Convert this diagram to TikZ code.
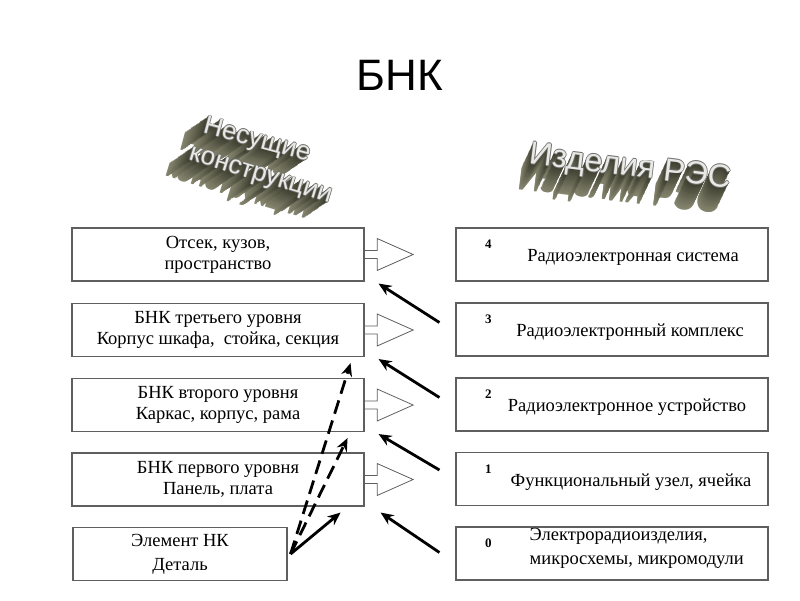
\documentclass[tikz,border=0pt]{standalone}
\usepackage{fontspec}
\setmainfont{Liberation Serif}
\newfontfamily\headfont{Liberation Sans}
\usetikzlibrary{arrows.meta,positioning,calc}
\definecolor{frame}{RGB}{95,95,95}
\definecolor{wadark}{RGB}{62,62,48}
\definecolor{walight}{RGB}{135,135,112}
\definecolor{wafront}{RGB}{232,232,230}
\definecolor{waedge}{RGB}{110,110,106}
\tikzset{
  >={Stealth[length=13pt,width=11pt]},
  box/.style={draw=frame,line width=1.1pt,fill=white,minimum width=#1,minimum height=53pt,
    inner sep=0pt,align=center,font=\fontsize{18.5}{21}\selectfont},
  box/.default=292pt,
  txt/.style={font=\fontsize{18.5}{24}\selectfont,align=left,inner sep=0pt},
  num/.style={font=\fontsize{13}{15}\selectfont\bfseries,inner sep=0pt},
  link/.style={->,line width=2.8pt,draw=black},
  dlink/.style={link,dash pattern=on 14pt off 7pt},
  wa/.style={font=\headfont\fontsize{#1}{#1}\selectfont,inner sep=0pt},
  wa/.default=26,
  % hollow block arrow
  pics/hollow/.style={code={
    \draw[frame,fill=white,line width=0.8pt] (0,-4) -- (12,-4) -- (12,-16) -- (48,0) -- (12,16) -- (12,4) -- (0,4);
  }},
}

\begin{document}
\begin{tikzpicture}[x=1pt,y=-1pt]
  \fill[white] (0,0) rectangle (800,600);
  \useasboundingbox (0,0) rectangle (800,600);

  \node[font=\headfont\fontsize{44}{44}\selectfont] (title) at (400,75) {БНК};

  % 3D headings
  \coordinate (nes) at (257,141);
  \coordinate (kon) at (260,177);
  \coordinate (izd) at (630,168);
  \foreach \k in {30,29,...,1}{
    \pgfmathtruncatemacro\p{100*\k/30}
    \node[wa,rotate=-15,text=walight!\p!wadark] (nes\k) at ($(nes)+(-\k*0.8,\k*0.55)$) {Несущие};
    \node[wa,rotate=-17,text=walight!\p!wadark] (kon\k) at ($(kon)+(-\k*0.8,\k*0.55)$) {конструкции};
    \node[wa=32,rotate=-7,text=walight!\p!wadark] (izd\k) at ($(izd)+(-\k*0.4,\k*0.85)$) {Изделия РЭС};
  }
  \foreach \dx/\dy in {0.8/0,-0.8/0,0/0.8,0/-0.8}{
    \node[wa,rotate=-15,text=waedge] at ($(nes)+(\dx,\dy)$) {Несущие};
    \node[wa,rotate=-17,text=waedge] at ($(kon)+(\dx,\dy)$) {конструкции};
    \node[wa=32,rotate=-7,text=waedge] at ($(izd)+(\dx,\dy)$) {Изделия РЭС};
  }
  \node[wa,rotate=-15,text=wafront] (nestop) at (nes) {Несущие};
  \node[wa,rotate=-17,text=wafront] (kontop) at (kon) {конструкции};
  \node[wa=32,rotate=-7,text=wafront] (izdtop) at (izd) {Изделия РЭС};

  % left column
  \node[box] (l4) at (218,254.5) {Отсек, кузов,\\пространство};
  \node[box] (l3) at (218,330) {БНК третьего уровня\\Корпус шкафа,~ стойка, секция};
  \node[box] (l2) at (218,405) {БНК второго уровня\\Каркас, корпус, рама};
  \node[box] (l1) at (218,479.5) {БНК первого уровня\\Панель, плата};
  \node[box=214pt,font=\fontsize{18.5}{24}\selectfont] (l0) at (180,554) {Элемент НК\\Деталь};
  \foreach \b in {l4,l3,l2,l1}
    \pic at ([xshift=0.6]\b.east) {hollow};

  % right column
  \node[box=312pt] (r4) at (612,254.5) {};
  \node[box=312pt] (r3) at (612,329.5) {};
  \node[box=312pt] (r2) at (612,404.5) {};
  \node[box=312pt] (r1) at (612,479) {};
  \node[box=312pt] (r0) at (612,553.5) {};
  \foreach \r/\n in {r4/4,r3/3,r2/2,r1/1,r0/0}
    \node[num] (n\n) at ($(\r.north west)+(33,17)$) {\n};
  \node[txt] (t4) at ($(r4)+(21,2.5)$) {Радиоэлектронная система};
  \node[txt] (t3) at ($(r3)+(18,2.5)$) {Радиоэлектронный комплекс};
  \node[txt] (t2) at ($(r2)+(15,2.5)$) {Радиоэлектронное устройство};
  \node[txt] (t1) at ($(r1)+(19,3)$) {Функциональный узел, ячейка};
  \node[txt,anchor=west] (t0) at ($(r0.west)+(74,-5)$) {Электрорадиоизделия,\\микросхемы, микромодули};

  % links
  \draw[link] ([shift={(-16,-7)}]r3.west) -- ([shift={(14,2)}]l4.south east);
  \draw[link] ([shift={(-16,-7)}]r2.west) -- ([shift={(14,2)}]l3.south east);
  \draw[link] ([shift={(-16,-9)}]r1.west) -- ([shift={(14,2)}]l2.south east);
  \draw[link] ([shift={(-16,-1)}]r0.west) -- ([shift={(16,6)}]l1.south east);
  \draw[link] ([xshift=3]l0.east) -- ([shift={(-24,6)}]l1.south east);
  \draw[dlink] ([xshift=3]l0.east) -- ([shift={(-17,6)}]l2.south east);
  \draw[dlink] ([xshift=3]l0.east) -- ([shift={(-14,6)}]l3.south east);
\end{tikzpicture}
\end{document}
